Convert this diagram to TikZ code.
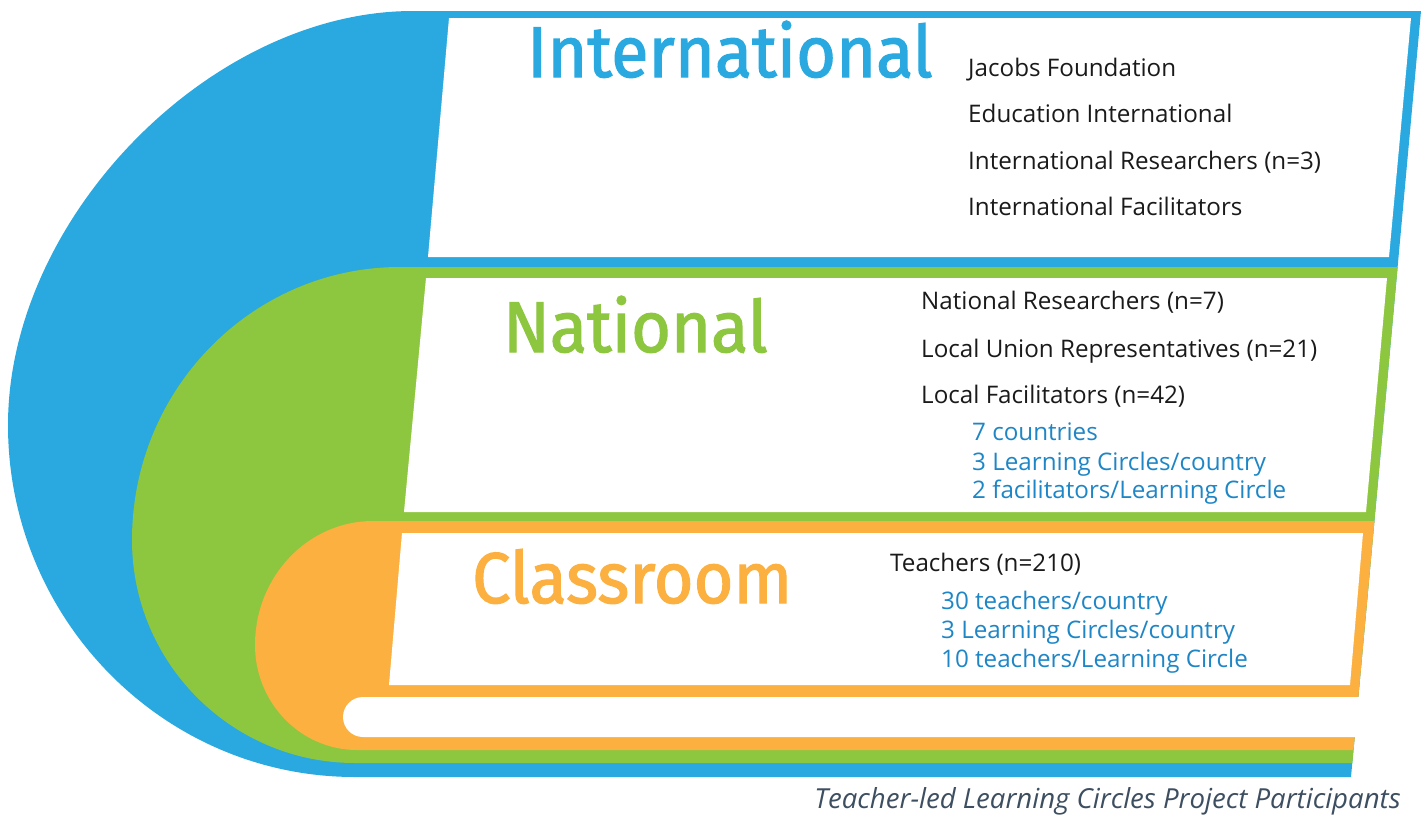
\documentclass[tikz,border=0pt]{standalone}
\usepackage{fontspec}
\setmainfont{Open Sans}
\newfontfamily\titlefont{Fira Sans}[FakeBold=1.6,FakeStretch=0.95]
\definecolor{cblue}{HTML}{29A9E0}
\definecolor{cgreen}{HTML}{8DC63F}
\definecolor{corange}{HTML}{FBB040}
\definecolor{ctext}{HTML}{1A1A1A}
\definecolor{clist}{HTML}{1E86C6}
\definecolor{ccap}{HTML}{3D4E60}
\tikzset{
  title/.style={anchor=base west, inner sep=0pt, font=\titlefont\fontsize{72}{72}\selectfont},
  item/.style={anchor=base west, inner sep=0pt, text=ctext, font=\fontsize{24.2}{24.2}\selectfont},
  sub/.style={anchor=base west, inner sep=0pt, text=clist, font=\fontsize{24.2}{24.2}\selectfont},
}
\begin{document}
\begin{tikzpicture}[x=1pt,y=-1pt]
\useasboundingbox (0,0) rectangle (1424,814);
% blue band
\fill[cblue] (413,11) -- (1421,11) -- (1351,777) -- (355,777)
  .. controls (163.5,777) and (8,619.3) .. (8,425)
  .. controls (8,218) and (210.5,11) .. (413,11) -- cycle;
% green band
\fill[cgreen] (400,267) -- (1397.6,267) -- (1352.3,763) -- (355,763)
  .. controls (231.9,763) and (132,663.1) .. (132,540)
  .. controls (132,389.3) and (252.1,267) .. (400,267) -- cycle;
% orange band
\fill[corange] (373,521) -- (1374.4,521) -- (1353.5,750) -- (357,750)
  .. controls (300.7,750) and (255,703) .. (255,645)
  .. controls (255,576.6) and (307.9,521) .. (373,521) -- cycle;
% white panels
\fill[white] (449,18) -- (1411,18) -- (1389,257) -- (428,257) -- cycle;
\fill[white] (426,278) -- (1387,278) -- (1366,512) -- (404,512) -- cycle;
\fill[white] (402,533) -- (1363,533) -- (1350,685) -- (389,685) -- cycle;
\fill[white, rounded corners=20pt] (343,697) rectangle (1440,737);

% titles
\node[title, text=cblue] (tInt) at (527,77) {International};
\node[title, text=cgreen] (tNat) at (503,352) {National};
\node[title, text=corange] (tCls) at (472,603) {Classroom};

% international
\node[item] (i1) at (968,76) {Jacobs Foundation};
\node[item] (i2) at (968,122) {Education International};
\node[item] (i3) at (968,169) {International Researchers (n=3)};
\node[item] (i4) at (968,215) {International Facilitators};

% national
\node[item] (n1) at (921,309) {National Researchers (n=7)};
\node[item] (n2) at (921,357) {Local Union Representatives (n=21)};
\node[item] (n3) at (921,403) {Local Facilitators (n=42)};
\node[sub] (n4) at (972,440) {7 countries};
\node[sub] (n5) at (972,470) {3 Learning Circles/country};
\node[sub] (n6) at (972,498) {2 facilitators/Learning Circle};

% classroom
\node[item] (c1) at (890,571) {Teachers (n=210)};
\node[sub] (c2) at (941,609) {30 teachers/country};
\node[sub] (c3) at (941,638) {3 Learning Circles/country};
\node[sub] (c4) at (941,667) {10 teachers/Learning Circle};

% caption
\node[anchor=base east, inner sep=0pt, text=ccap, font=\itshape\fontsize{27.6}{27.6}\selectfont] (cap) at (1401,808) {Teacher-led Learning Circles Project Participants};
\end{tikzpicture}
\end{document}
